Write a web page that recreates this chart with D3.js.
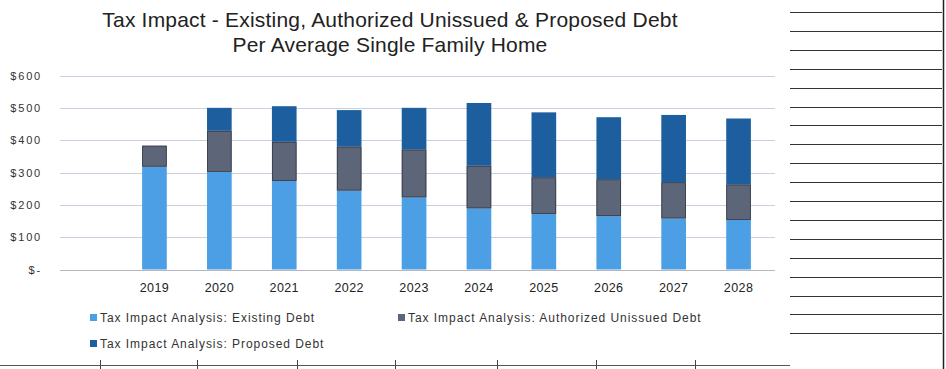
<!DOCTYPE html>
<html>
<head>
<meta charset="utf-8">
<script src="https://cdn.jsdelivr.net/npm/d3@7"></script>
<style>
  body { margin: 0; background: #fff; }
  svg { display: block; }
  text { font-family: "Liberation Sans", Arial, sans-serif; }
</style>
</head>
<body>
<svg width="946" height="369"></svg>
<script>
// data
var years = ["2019", "2020", "2021", "2022", "2023", "2024", "2025", "2026", "2027", "2028"];
var existingDebt   = [318, 302, 274, 244, 223, 189, 172, 165, 158, 153];
var authorizedDebt = [65, 127, 121, 136, 148, 132, 113, 114, 112, 110];
var proposedDebt   = [0, 71, 110, 113, 129, 194, 201, 192, 208, 204];
var seriesNames = ["Tax Impact Analysis: Existing Debt",
                   "Tax Impact Analysis: Authorized Unissued Debt",
                   "Tax Impact Analysis: Proposed Debt"];
var yTicks = [0, 100, 200, 300, 400, 500, 600];

var colors = ["#4c9fe4", "#5d6578", "#1d5f9e"];

var svg = d3.select("svg");

var x = d3.scaleBand().domain(years).range([122, 771]).paddingInner(0.62).paddingOuter(0.31);
var y = d3.scaleLinear().domain([0, 600]).range([269.5, 75.5]);

// gridlines
svg.append("g")
    .selectAll("line")
    .data(yTicks)
    .enter().append("line")
    .attr("x1", 60).attr("x2", 775)
    .attr("y1", function (d) { return Math.round(y(d)) + 0.5; })
    .attr("y2", function (d) { return Math.round(y(d)) + 0.5; })
    .style("stroke", function (d) { return d == 0 ? "#b4b6c2" : "#cbcfde"; })
    .style("stroke-width", "1px");

// y labels
svg.append("g")
    .selectAll("text")
    .data(yTicks)
    .enter().append("text")
    .attr("x", 42)
    .attr("y", function (d) { return y(d) + 4; })
    .attr("text-anchor", "end")
    .style("font-size", "11px")
    .style("letter-spacing", "1.8px")
    .style("fill", "#333")
    .text(function (d) { return d == 0 ? "$-" : "$" + d; });

// stacked bars
var rows = years.map(function (yr, i) {
    return { year: yr, existing: existingDebt[i], authorized: authorizedDebt[i], proposed: proposedDebt[i] };
});
var stack = d3.stack().keys(["existing", "authorized", "proposed"])(rows);

svg.append("g")
    .selectAll("g")
    .data(stack)
    .enter().append("g")
    .style("fill", function (d, i) { return colors[i]; })
    .selectAll("rect")
    .data(function (d) { return d; })
    .enter().append("rect")
    .attr("x", function (d) { return x(d.data.year); })
    .attr("width", x.bandwidth())
    .attr("y", function (d) { return y(d[1]); })
    .attr("height", function (d) { return y(d[0]) - y(d[1]); });

// thin dark edges around the authorized segment
svg.append("g")
    .selectAll("rect")
    .data(stack[1])
    .enter().append("rect")
    .attr("x", function (d) { return x(d.data.year) + 0.5; })
    .attr("width", x.bandwidth() - 1)
    .attr("y", function (d) { return y(d[1]) + 0.5; })
    .attr("height", function (d) { return y(d[0]) - y(d[1]) - 1; })
    .style("fill", "none")
    .style("stroke", "#363b48")
    .style("stroke-width", "0.8px");

// x labels
svg.append("g")
    .selectAll("text")
    .data(years)
    .enter().append("text")
    .attr("x", function (d) { return x(d) + x.bandwidth() / 2; })
    .attr("y", 292)
    .attr("text-anchor", "middle")
    .style("font-size", "12.5px")
    .style("letter-spacing", "0.4px")
    .style("fill", "#222")
    .text(function (d) { return d; });

// title
var title = svg.append("text")
    .attr("text-anchor", "middle")
    .style("font-size", "21px")
    .style("letter-spacing", "0.2px")
    .style("fill", "#222");
title.append("tspan").attr("x", 390).attr("y", 27).text("Tax Impact - Existing, Authorized Unissued & Proposed Debt");
title.append("tspan").attr("x", 390).attr("y", 52).text("Per Average Single Family Home");

// legend
var legendPos = [[90, 322], [398, 322], [90, 348]];
var legend = svg.append("g")
    .selectAll("g")
    .data(seriesNames)
    .enter().append("g")
    .attr("transform", function (d, i) { return "translate(" + legendPos[i][0] + "," + legendPos[i][1] + ")"; });
legend.append("rect")
    .attr("x", 0).attr("y", -8)
    .attr("width", 7).attr("height", 7)
    .style("fill", function (d, i) { return colors[i]; });
legend.append("text")
    .attr("x", 10)
    .attr("y", 0)
    .style("font-size", "12px")
    .style("letter-spacing", "0.95px")
    .style("fill", "#333")
    .text(function (d) { return d; });

// page furniture: ruled table on the right and form edges
var ruleY = d3.range(18).map(function (i) { return 12 + i * 18.9; });
svg.append("g")
    .selectAll("line")
    .data(ruleY)
    .enter().append("line")
    .attr("x1", 790).attr("x2", 942)
    .attr("y1", function (d) { return Math.round(d) + 0.5; })
    .attr("y2", function (d) { return Math.round(d) + 0.5; })
    .style("stroke", "#333")
    .style("stroke-width", "1.2px");

svg.append("line")
    .attr("x1", 943.5).attr("x2", 943.5).attr("y1", 0).attr("y2", 369)
    .style("stroke", "#222").style("stroke-width", "1.5px");

svg.append("line")
    .attr("x1", 0).attr("x2", 790).attr("y1", 365.5).attr("y2", 365.5)
    .style("stroke", "#555").style("stroke-width", "1px");

svg.append("g")
    .selectAll("line")
    .data([100, 197, 297, 395, 497, 596, 695])
    .enter().append("line")
    .attr("x1", function (d) { return d + 0.5; })
    .attr("x2", function (d) { return d + 0.5; })
    .attr("y1", 360).attr("y2", 369)
    .style("stroke", "#444").style("stroke-width", "1px");
</script>
</body>
</html>
